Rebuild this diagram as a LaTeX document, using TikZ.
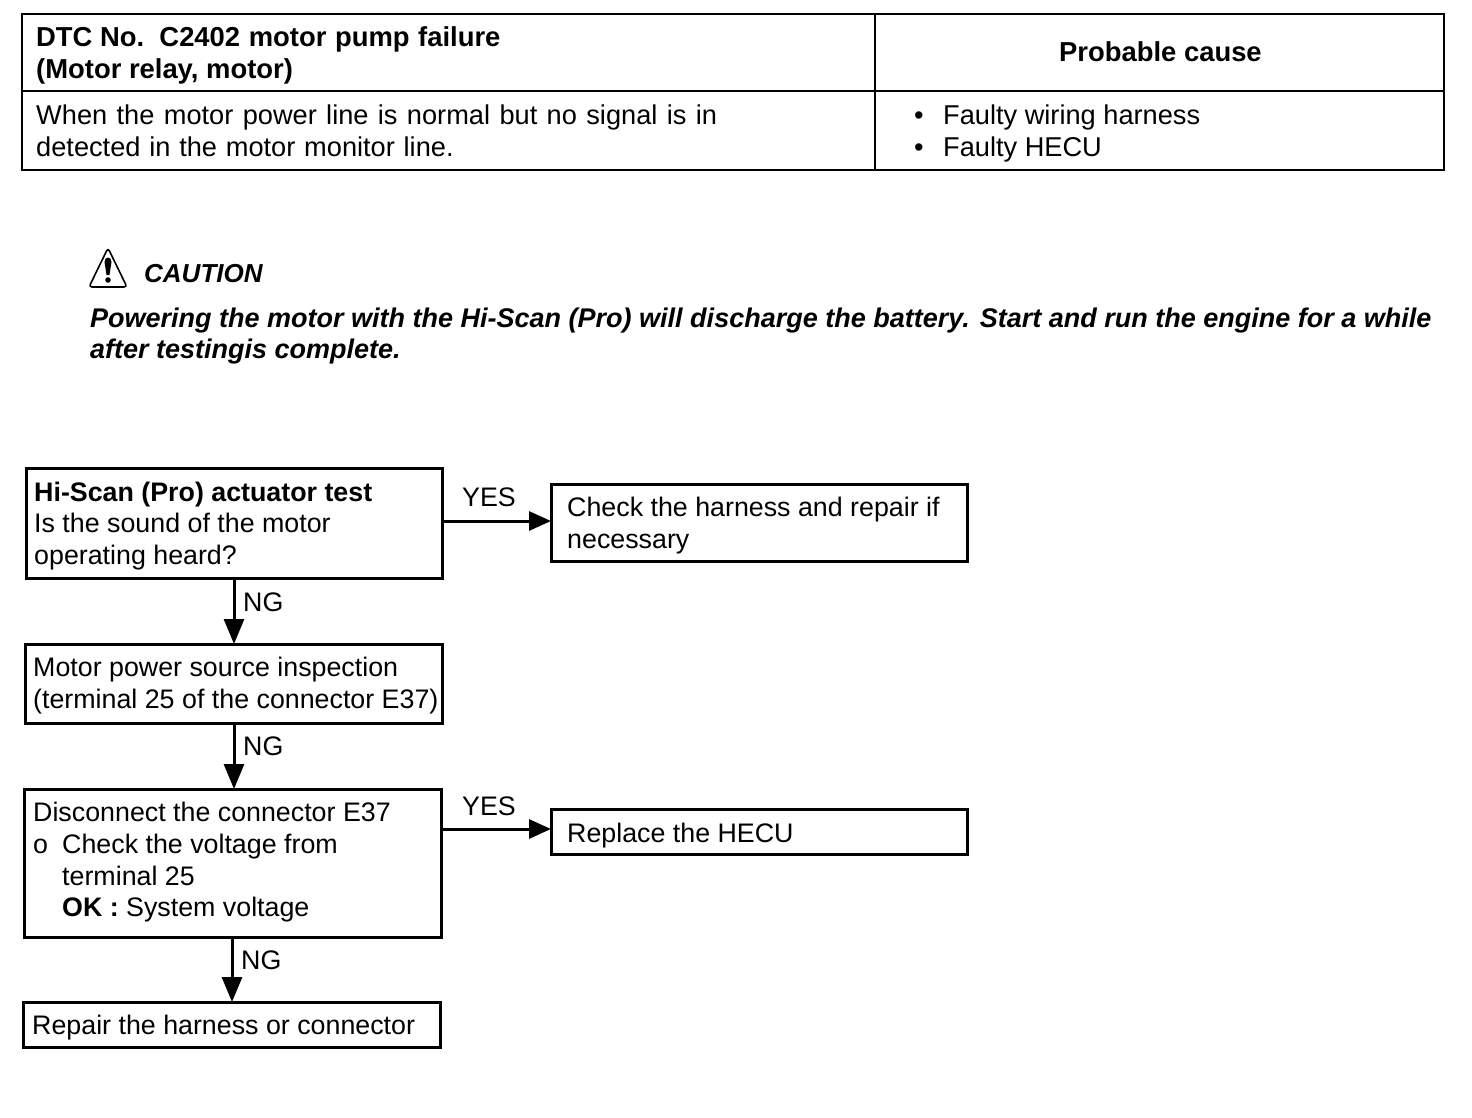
\documentclass[tikz,border=0pt]{standalone}
\usepackage{fontspec}
\setmainfont{Liberation Sans}
\usetikzlibrary{arrows.meta}
\tikzset{
 box/.style={draw=black,line width=3pt,inner sep=0pt,outer sep=0pt,anchor=north west},
 line/.style={draw=black,line width=2.5pt},
 flow/.style={draw=black,line width=3pt,-{Triangle[length=25pt,width=20pt]}},
 hflow/.style={draw=black,line width=3pt,-{Triangle[length=22pt,width=19pt]}},
 txt/.style={anchor=base west,font=\fontsize{26.8}{26.8}\selectfont,inner sep=0pt,text=black,align=left},
 btxt/.style={txt,font=\fontsize{26.8}{26.8}\selectfont\bfseries},
 ttxt/.style={txt,font=\fontsize{27.2}{27.2}\selectfont},
 tbtxt/.style={txt,font=\fontsize{27.4}{27.4}\selectfont\bfseries},
 cau/.style={txt,font=\fontsize{27}{27}\selectfont\bfseries\itshape},
}
\begin{document}
\begin{tikzpicture}[x=1pt,y=-1pt]
\useasboundingbox (0,0) rectangle (1472,1118);
\fill[white] (0,0) rectangle (1472,1118);
% table
\node[box,line width=2.5pt,minimum width=1422pt,minimum height=156pt] (tbl) at (22,14) {};
\coordinate (hl) at (22,91); \coordinate (hr) at (1444,91);
\draw[line] (hl) -- (hr);
\coordinate (vt) at (875,14); \coordinate (vb) at (875,170);
\draw[line] (vt) -- (vb);
\node[tbtxt] (t1) at (36,47) {DTC No.\ \ C2402\hspace{1pt} motor\hspace{1pt} pump\hspace{1pt} failure};
\node[tbtxt] (t2) at (36,79) {(Motor relay, motor)};
\node[tbtxt] (t3) at (1059,62) {Probable cause};
\node[ttxt] (t4) at (36,125) {\spaceskip=9.4pt When the motor power line is normal but no signal is in};
\node[ttxt] (t5) at (36,157) {\spaceskip=8.8pt detected in the motor monitor line.};
\node[ttxt] (t6) at (914,125) {•};
\node[ttxt] (t6b) at (943,125) {Faulty wiring harness};
\node[ttxt] (t7) at (914,157) {•};
\node[ttxt] (t7b) at (943,157) {Faulty HECU};
% caution
\draw[line width=1.6pt,line join=round,rounded corners=3pt] (108,248) -- (127,287) -- (89,287) -- cycle;
\fill[black] (104.5,262) .. controls (104.5,256) and (111.5,256) .. (111.5,262) -- (109.5,275) -- (106.5,275) -- cycle;
\fill[black] (108,280) circle (2.8pt);
\node[cau,font=\fontsize{26}{26}\selectfont\bfseries\itshape] (c0) at (144,282) {CAUTION};
\node[cau] (c1) at (90,327) {Powering the motor with the Hi-Scan (Pro) will discharge the battery. Start and run the engine for a while};
\node[cau] (c2) at (90,358) {after testingis complete.};
% flow boxes
\node[box,minimum width=416pt,minimum height=110pt] (a) at (26,468) {};
\node[btxt] at (34,501) {Hi-Scan (Pro) actuator test};
\node[txt] at (34,532) {Is the sound of the motor};
\node[txt] at (34,564) {operating heard?};
\node[box,minimum width=416pt,minimum height=77pt] (b) at (551,484) {};
\node[txt] at (567,516) {Check the harness and repair if};
\node[txt] at (567,548) {necessary};
\node[box,minimum width=417pt,minimum height=79pt] (c) at (25,644) {};
\node[txt] at (33,676) {Motor power source inspection};
\node[txt] at (33,708) {(terminal 25 of the connector E37)};
\node[box,minimum width=417pt,minimum height=148pt] (d) at (24,789) {};
\node[txt] at (33,821) {Disconnect the connector E37};
\node[txt] at (33,853) {o};
\node[txt] at (62,853) {Check the voltage from};
\node[txt] at (62,885) {terminal 25};
\node[txt] at (62,916) {\textbf{OK :} System voltage};
\node[box,minimum width=416pt,minimum height=45pt] (e) at (551,809) {};
\node[txt] at (567,842) {Replace the HECU};
\node[box,minimum width=417pt,minimum height=45pt] (f) at (23,1002) {};
\node[txt] at (32,1034) {Repair the harness or connector};
% connectors
\draw[hflow] (a.east|-0,521) -- (b.west|-0,521);
\draw[hflow] (d.east|-0,829) -- (e.west|-0,829);
\draw[flow] (234,578) -- (234,644);
\draw[flow] (234,723) -- (234,789);
\draw[flow] (232,937) -- (232,1002);
\node[txt] at (462,506) {YES};
\node[txt] at (462,815) {YES};
\node[txt] at (243,611) {NG};
\node[txt] at (243,755) {NG};
\node[txt] at (241,969) {NG};
\end{tikzpicture}
\end{document}
